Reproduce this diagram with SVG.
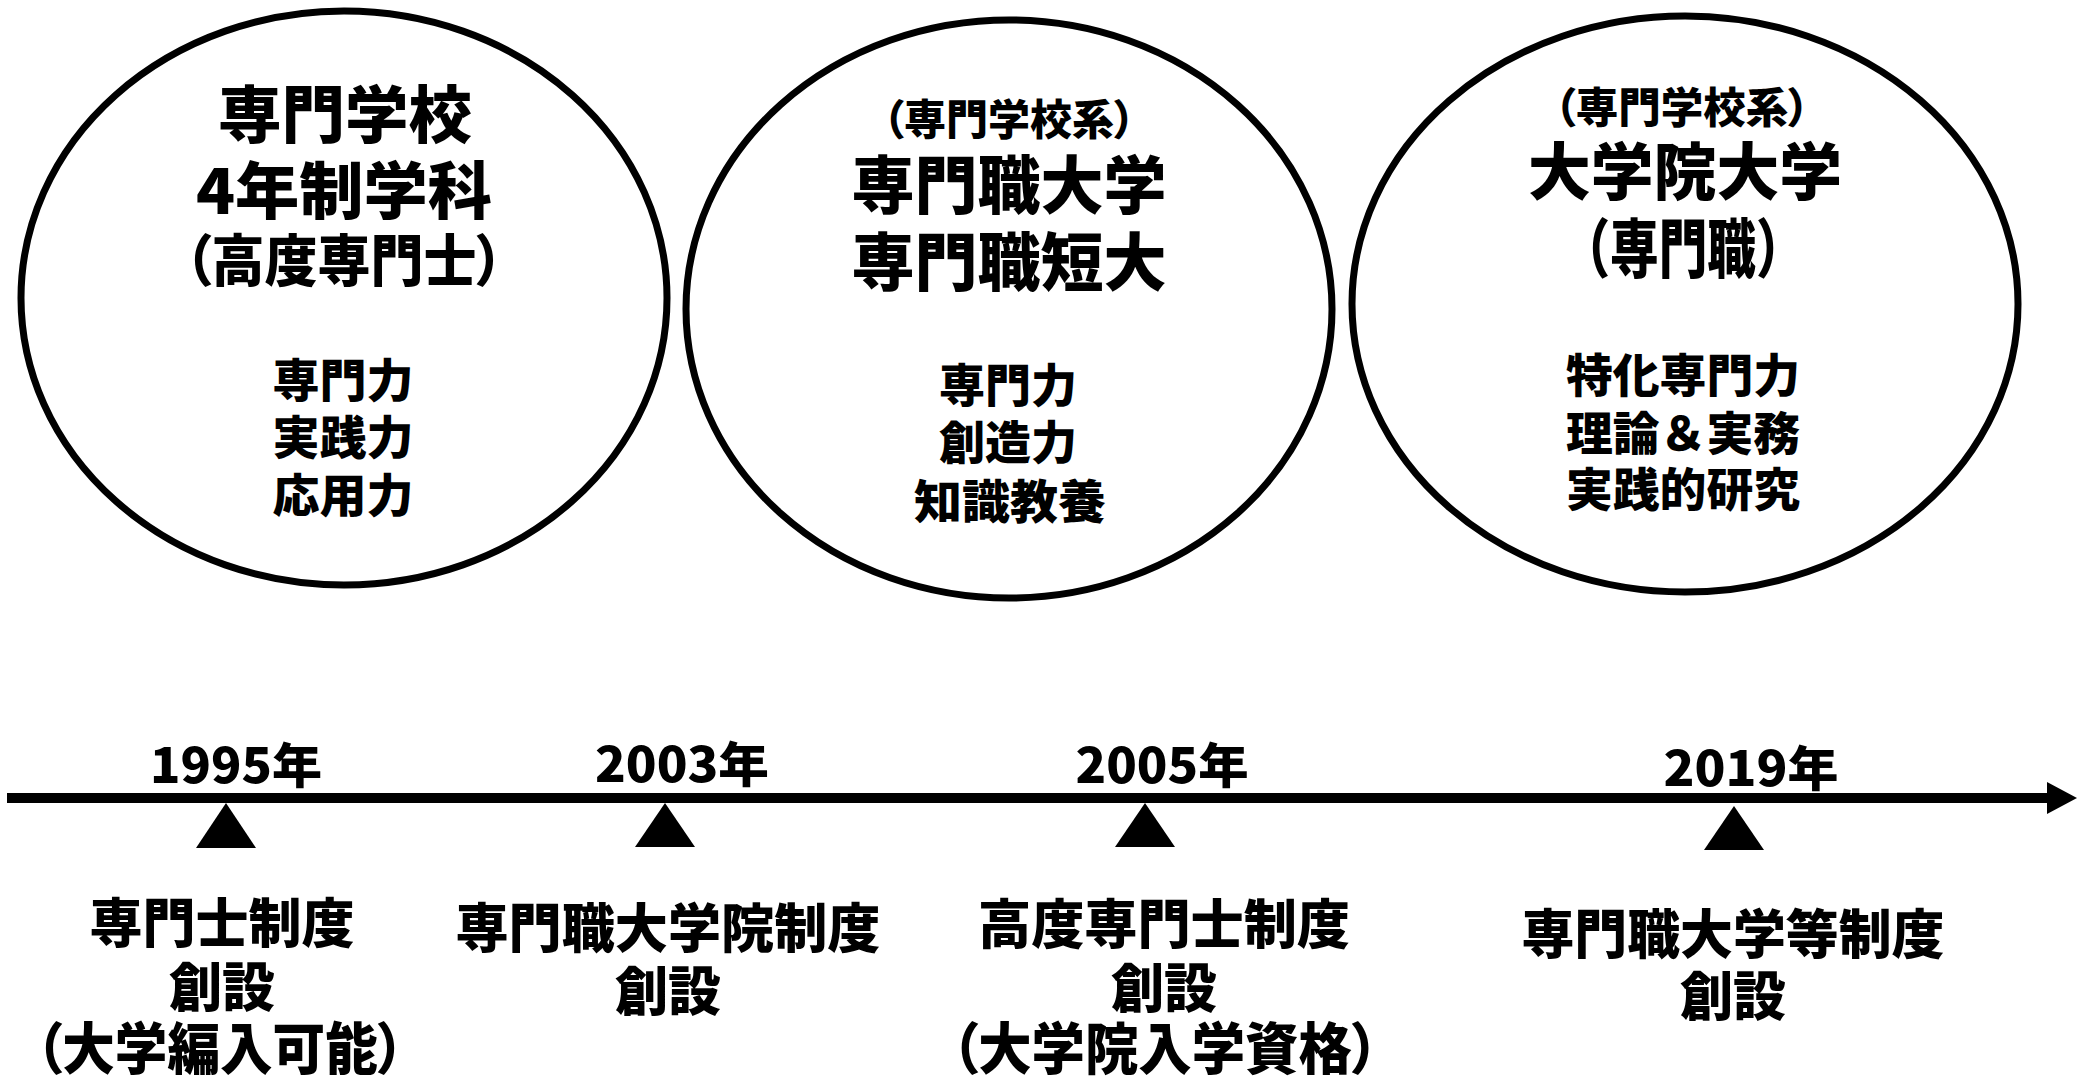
<svg xmlns="http://www.w3.org/2000/svg" width="2079" height="1080" viewBox="0 0 2079 1080">
<style>
.c{fill:#fff;stroke:#000;stroke-width:7}
.t{font-family:"Noto Sans CJK JP","Noto Sans",sans-serif;font-weight:900;fill:#000;text-anchor:middle}
.p{font-feature-settings:"palt" 1}
.tri{fill:#000}
</style>
<defs>
<marker id="ah" markerUnits="userSpaceOnUse" markerWidth="32" markerHeight="34" refX="0" refY="16" orient="auto">
<path d="M0,0 L30,16 L0,32 z" fill="#000"/>
</marker>
</defs>
<rect width="2079" height="1080" fill="#fff"/>
<g id="circle-1">
<ellipse class="c" cx="344" cy="298" rx="323" ry="287"/>
<text class="t" x="345" y="138" font-size="62" textLength="254" lengthAdjust="spacingAndGlyphs">専門学校</text>
<text class="t" x="344" y="214" font-size="62" textLength="296" lengthAdjust="spacingAndGlyphs">4年制学科</text>
<text class="t p" x="344" y="281" font-size="56" textLength="318" lengthAdjust="spacingAndGlyphs">（高度専門士）</text>
<text class="t" x="343" y="397" font-size="46" textLength="141" lengthAdjust="spacingAndGlyphs">専門力</text>
<text class="t" x="343" y="454" font-size="46" textLength="141" lengthAdjust="spacingAndGlyphs">実践力</text>
<text class="t" x="343" y="512" font-size="46" textLength="141" lengthAdjust="spacingAndGlyphs">応用力</text>
</g>
<g id="circle-2">
<ellipse class="c" cx="1009" cy="309" rx="323" ry="289"/>
<text class="t p" x="1009" y="135" font-size="42" textLength="252" lengthAdjust="spacingAndGlyphs">（専門学校系）</text>
<text class="t" x="1009" y="208" font-size="63" textLength="315" lengthAdjust="spacingAndGlyphs">専門職大学</text>
<text class="t" x="1009" y="285" font-size="63" textLength="315" lengthAdjust="spacingAndGlyphs">専門職短大</text>
<text class="t" x="1008" y="402" font-size="46" textLength="138" lengthAdjust="spacingAndGlyphs">専門力</text>
<text class="t" x="1008" y="459" font-size="46" textLength="138" lengthAdjust="spacingAndGlyphs">創造力</text>
<text class="t" x="1010" y="518" font-size="46" textLength="192" lengthAdjust="spacingAndGlyphs">知識教養</text>
</g>
<g id="circle-3">
<ellipse class="c" cx="1685" cy="304" rx="333" ry="288"/>
<text class="t p" x="1682" y="123" font-size="42" textLength="255" lengthAdjust="spacingAndGlyphs">（専門学校系）</text>
<text class="t" x="1685" y="195" font-size="62" textLength="314" lengthAdjust="spacingAndGlyphs">大学院大学</text>
<text class="t" x="1683" y="272" font-size="64" textLength="243" lengthAdjust="spacingAndGlyphs">（専門職）</text>
<text class="t" x="1683" y="392" font-size="46" textLength="234" lengthAdjust="spacingAndGlyphs">特化専門力</text>
<text class="t" x="1683" y="450" font-size="46" textLength="234" lengthAdjust="spacingAndGlyphs">理論＆実務</text>
<text class="t" x="1683" y="506" font-size="46" textLength="234" lengthAdjust="spacingAndGlyphs">実践的研究</text>
</g>
<g id="connectors">
<line x1="7" y1="798" x2="2047" y2="798" stroke="#000" stroke-width="10" marker-end="url(#ah)"/>
</g>
<g id="event-1995">
<text class="t" x="236" y="783" font-size="48" textLength="172" lengthAdjust="spacingAndGlyphs">1995年</text>
<polygon class="tri" points="226,803 196,848 256,848"/>
<text class="t" x="222" y="943" font-size="53" textLength="265" lengthAdjust="spacingAndGlyphs">専門士制度</text>
<text class="t" x="222" y="1007" font-size="53" textLength="106" lengthAdjust="spacingAndGlyphs">創設</text>
<text class="t p" x="220" y="1069" font-size="56" textLength="368" lengthAdjust="spacingAndGlyphs">（大学編入可能）</text>
</g>
<g id="event-2003">
<text class="t" x="682" y="782" font-size="48" textLength="174" lengthAdjust="spacingAndGlyphs">2003年</text>
<polygon class="tri" points="665,803 635,847 695,847"/>
<text class="t" x="668" y="948" font-size="53" textLength="425" lengthAdjust="spacingAndGlyphs">専門職大学院制度</text>
<text class="t" x="668" y="1011" font-size="53" textLength="106" lengthAdjust="spacingAndGlyphs">創設</text>
</g>
<g id="event-2005">
<text class="t" x="1162" y="783" font-size="48" textLength="173" lengthAdjust="spacingAndGlyphs">2005年</text>
<polygon class="tri" points="1145,803 1115,847 1175,847"/>
<text class="t" x="1164" y="944" font-size="53" textLength="372" lengthAdjust="spacingAndGlyphs">高度専門士制度</text>
<text class="t" x="1164" y="1008" font-size="53" textLength="106" lengthAdjust="spacingAndGlyphs">創設</text>
<text class="t p" x="1165" y="1069" font-size="56" textLength="427" lengthAdjust="spacingAndGlyphs">（大学院入学資格）</text>
</g>
<g id="event-2019">
<text class="t" x="1751" y="786" font-size="48" textLength="175" lengthAdjust="spacingAndGlyphs">2019年</text>
<polygon class="tri" points="1734,806 1704,850 1764,850"/>
<text class="t" x="1733" y="954" font-size="53" textLength="423" lengthAdjust="spacingAndGlyphs">専門職大学等制度</text>
<text class="t" x="1733" y="1016" font-size="53" textLength="106" lengthAdjust="spacingAndGlyphs">創設</text>
</g>
</svg>
